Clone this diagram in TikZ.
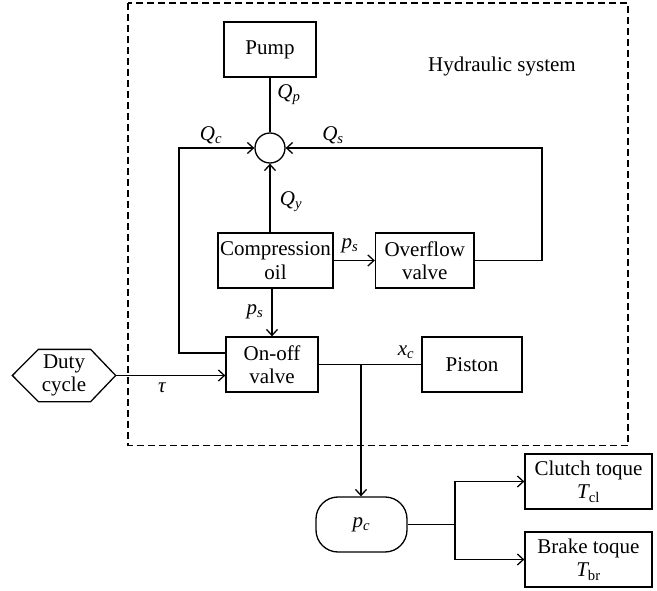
\documentclass[tikz,border=0pt]{standalone}
\usepackage{fontspec}
\setmainfont{Liberation Serif}
\usetikzlibrary{arrows.meta,calc}
\newcommand{\ivar}[2]{{\itshape #1}\textsubscript{\itshape #2}}
\begin{document}
\begin{tikzpicture}[x=1pt,y=-1pt,
  font=\fontsize{21}{23.5}\selectfont,
  line width=1.3pt,
  >={Straight Barb[length=6pt,width=11pt]},
  blk/.style={draw,align=center,inner sep=0pt},
  lbl/.style={inner sep=0pt},
  frame/.style={draw,dash pattern=on 7pt off 4pt,line width=1.1pt}]
\useasboundingbox (0,0) rectangle (657,591);
% frame
\draw[frame] (128,3) rectangle (628,445.5);
\node[lbl] (hs) at (502,66) {Hydraulic system};
% blocks
\node[blk,minimum width=92pt,minimum height=55pt] (pump) at (270,49.5) {Pump};
\node[draw,circle,minimum size=30pt,inner sep=0pt] (sum) at (270,148) {};
\node[blk,minimum width=115pt,minimum height=55pt] (comp) at (275.5,260.5) {Compression\\oil};
\node[blk,minimum width=98.5pt,minimum height=55pt] (over) at (424.75,260.5) {Overflow\\valve};
\node[blk,minimum width=92pt,minimum height=55pt] (onoff) at (272,364.5) {On-off\\valve};
\node[blk,minimum width=100pt,minimum height=55pt] (piston) at (472,364.5) {Piston};
\node[blk,minimum width=91pt,minimum height=55pt,rounded corners=22pt] (pc) at (361.5,524.5) {\ivar{p}{c}};
\node[blk,minimum width=127pt,minimum height=55pt] (clutch) at (588.5,481.5) {Clutch toque\\{\itshape T}\textsubscript{cl}};
\node[blk,minimum width=127pt,minimum height=55pt] (brake) at (588.5,559.5) {Brake toque\\{\itshape T}\textsubscript{br}};
% duty cycle hexagon
\node[align=center,minimum width=102pt,minimum height=51pt,inner sep=0pt] (duty) at (64,375.5) {Duty\\cycle};
\draw (duty.west) -- ([xshift=26pt]duty.north west) -- ([xshift=-25pt]duty.north east)
  -- (duty.east) -- ([xshift=-25pt]duty.south east) -- ([xshift=26pt]duty.south west) -- cycle;
% coordinates
\coordinate (lf) at (179,353);
\coordinate (rr) at (542,148);
\coordinate (br) at (361,364.5);
\coordinate (jn) at (455,524.5);
% connectors
\draw (pump.south) -- (sum.north);
\draw[->] (sum |- comp.north) -- (sum.south);
\draw[->] (comp.east) -- (over.west);
\draw[->] (over.east) -| (rr) -- (sum.east);
\draw[->] (onoff.west |- lf) -- (lf) |- (sum.west);
\draw[->] (onoff.north |- comp.south) -- (onoff.north);
\draw[->] (duty.east) -- (onoff.west |- duty.east);
\draw (onoff.east) -- (piston.west);
\draw[->] (br) -- (br |- pc.north);
\draw (pc.east) -- (jn);
\draw[->] (jn) |- (clutch.west);
\draw[->] (jn) |- (brake.west);
% labels
\node[lbl] (lqp) at (289,95) {\ivar{Q}{p}};
\node[lbl] (lqc) at (211,135) {\ivar{Q}{c}};
\node[lbl] (lqs) at (333,135) {\ivar{Q}{s}};
\node[lbl] (lqy) at (291,202) {\ivar{Q}{y}};
\node[lbl] (lps1) at (350,246) {\ivar{p}{s}};
\node[lbl] (lps2) at (255,312) {\ivar{p}{s}};
\node[lbl] (ltau) at (162,388) {\itshape τ};
\node[lbl] (lxc) at (406,352) {\ivar{x}{c}};
\end{tikzpicture}
\end{document}
